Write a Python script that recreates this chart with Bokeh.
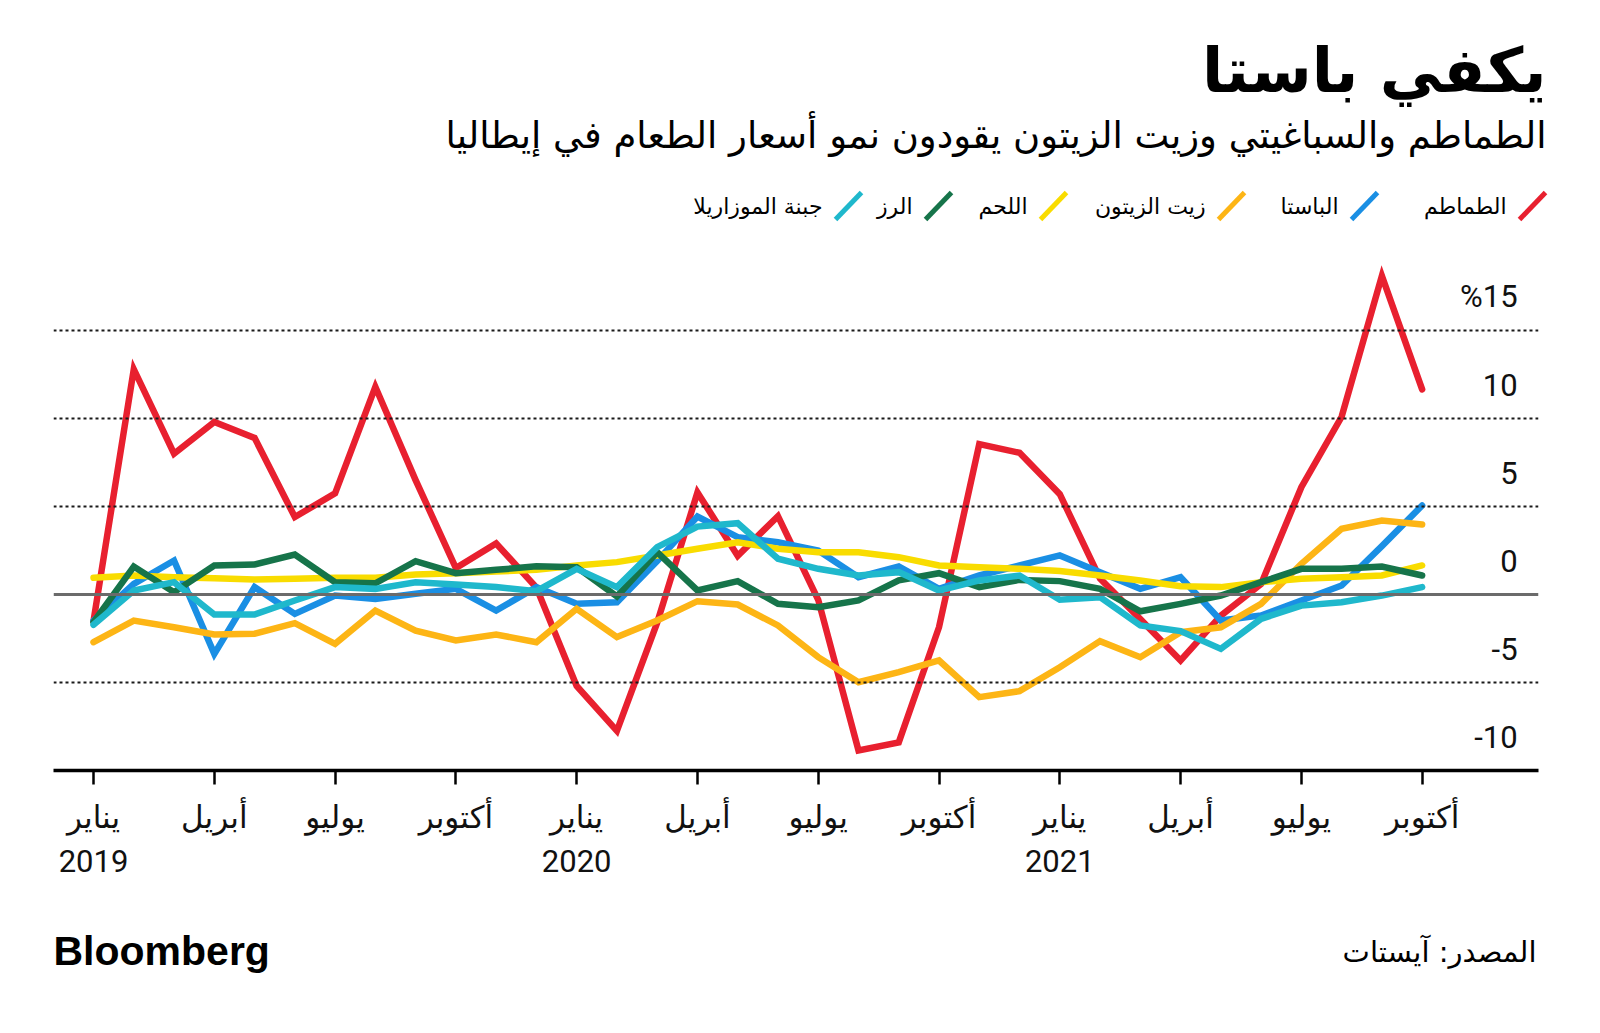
from bokeh.plotting import figure
from bokeh.models import Span, FixedTicker, Range1d
from bokeh.layouts import column
from bokeh.embed import file_html
from bokeh.resources import INLINE
from bokeh.core.properties import value

# ---------------- data (year-on-year %, Jan 2019 .. Oct 2021) ----------------
month_index = list(range(34))

tomatoes = [-1.5, 12.8, 8.0, 9.8, 8.9, 4.4, 5.75, 11.8, 6.5, 1.5, 2.9, 0.4,
            -5.2, -7.75, -1.6, 5.8, 2.2, 4.45, -0.3, -8.86, -8.4, -1.86, 8.55, 8.05,
            5.7, 0.9, -1.4, -3.75, -1.2, 0.6, 6.1, 10.1, 18.1, 11.65]
pasta = [-1.48, 0.6, 1.93, -3.37, 0.42, -1.1, -0.06, -0.25, 0.04, 0.32, -0.91, 0.42,
         -0.53, -0.44, 1.9, 4.43, 3.26, 2.97, 2.5, 0.98, 1.59, 0.32, 1.08, 1.65,
         2.22, 1.27, 0.32, 0.98, -1.48, -1.19, -0.34, 0.51, 2.75, 5.06]
olive_oil = [-2.71, -1.48, -1.86, -2.27, -2.23, -1.63, -2.8, -0.91, -2.05, -2.61, -2.27, -2.71,
             -0.81, -2.42, -1.48, -0.38, -0.57, -1.76, -3.56, -4.98, -4.41, -3.75, -5.83, -5.49,
             -4.13, -2.65, -3.56, -2.14, -1.86, -0.53, 1.74, 3.73, 4.2, 3.98]
meat = [0.95, 1.08, 0.98, 0.93, 0.85, 0.89, 0.95, 0.95, 1.14, 1.21, 1.3, 1.4,
        1.65, 1.84, 2.22, 2.6, 2.97, 2.6, 2.4, 2.4, 2.12, 1.65, 1.55, 1.46,
        1.33, 1.08, 0.8, 0.47, 0.42, 0.7, 0.89, 0.98, 1.08, 1.65]
rice = [-1.57, 1.59, 0.13, 1.65, 1.7, 2.27, 0.7, 0.64, 1.89, 1.21, 1.4, 1.6,
        1.55, -0.11, 2.4, 0.23, 0.76, -0.53, -0.72, -0.34, 0.8, 1.21, 0.42, 0.83,
        0.76, 0.32, -0.95, -0.53, -0.06, 0.7, 1.46, 1.46, 1.59, 1.08]
mozzarella = [-1.72, 0.23, 0.7, -1.14, -1.14, -0.34, 0.42, 0.32, 0.7, 0.57, 0.42, 0.19,
              1.46, 0.42, 2.69, 3.86, 4.05, 2.03, 1.46, 1.08, 1.27, 0.23, 0.8, 1.08,
              -0.3, -0.15, -1.76, -2.08, -3.09, -1.38, -0.63, -0.44, -0.06, 0.42]

series_names = ["الطماطم", "الباستا", "زيت الزيتون", "اللحم", "الرز", "جبنة الموزاريلا"]
series_colors = ["#E8202F", "#1A8FE4", "#FDB515", "#F9DC00", "#16744A", "#1FB8CC"]
series_values = [tomatoes, pasta, olive_oil, meat, rice, mozzarella]

tick_positions = [0, 3, 6, 9, 12, 15, 18, 21, 24, 27, 30, 33]
tick_labels = ["يناير\n2019", "أبريل", "يوليو", "أكتوبر",
               "يناير\n2020", "أبريل", "يوليو", "أكتوبر",
               "يناير\n2021", "أبريل", "يوليو", "أكتوبر"]
y_ticks = [15, 10, 5, 0, -5, -10]
y_tick_labels = ["%15", "10", "5", "0", "-5", "-10"]
dotted_grid = [15, 10, 5, -5]

title_text = "يكفي باستا"
subtitle_text = "الطماطم والسباغيتي وزيت الزيتون يقودون نمو أسعار الطعام في إيطاليا"
source_text = "المصدر: آيستات"
brand_text = "Bloomberg"

W = 1600
HEADER_H, MAIN_H, FOOTER_H = 235, 665, 133


def blank_fig(height, top_page):
    f = figure(width=W, height=height, x_range=Range1d(0, W),
               y_range=Range1d(top_page + height, top_page),
               output_backend="svg", toolbar_location=None, title=None,
               x_axis_location=None, y_axis_location=None,
               min_border=0, min_border_left=0, min_border_right=0,
               min_border_top=0, min_border_bottom=0)
    if "frame_align" in f.properties():
        f.frame_align = False
    f.outline_line_color = None
    f.grid.visible = False
    f.background_fill_color = "white"
    f.border_fill_color = "white"
    return f


# ---------------- header: title, subtitle, legend ----------------
header = blank_fig(HEADER_H, 0)
header.text(x=[1546], y=[70], text=[title_text], text_align="right",
            text_baseline="alphabetic", text_font=value("DejaVu Sans"),
            text_font_style="bold", text_font_size="62px", text_color="black")
header.text(x=[1546], y=[135], text=[subtitle_text], text_align="right",
            text_baseline="alphabetic", text_font=value("DejaVu Sans"),
            text_font_size="37px", text_color="black")

slash_x = [1532, 1364, 1231, 1053, 938, 848]
header.segment(x0=[x + 13 for x in slash_x], y0=[192] * 6,
               x1=[x - 13 for x in slash_x], y1=[219] * 6,
               line_color=series_colors, line_width=5)
header.text(x=[x - 26 for x in slash_x], y=[206] * 6, text=series_names,
            text_align="right", text_baseline="alphabetic",
            text_font=value("DejaVu Sans"), text_font_size="22px", text_color="black")

# ---------------- main chart ----------------
p = figure(width=W, height=MAIN_H, x_range=Range1d(-0.994, 35.89), y_range=Range1d(-10, 20),
           output_backend="svg", toolbar_location=None, y_axis_location=None, title=None,
           min_border_left=53, min_border_right=62, min_border_top=7, min_border_bottom=130)
p.outline_line_color = None
p.grid.visible = False
p.background_fill_color = "white"
p.border_fill_color = "white"

for v in dotted_grid:
    p.add_layout(Span(location=v, dimension="width", line_color="#1a1a1a",
                      line_width=2, line_dash="3 3"))
p.add_layout(Span(location=0, dimension="width", line_color="#6b6b6b", line_width=3))

for vals, col in zip(series_values, series_colors):
    p.line(month_index, vals, line_color=col, line_width=6.5,
           line_cap="round", line_join="miter")

ax = p.xaxis[0]
ax.ticker = FixedTicker(ticks=tick_positions)
ax.major_label_overrides = dict(zip(tick_positions, tick_labels))
ax.axis_line_color = "black"
ax.axis_line_width = 3.5
ax.major_tick_line_color = "black"
ax.major_tick_line_width = 2.5
ax.major_tick_in = 0
ax.major_tick_out = 14
ax.minor_tick_line_color = None
ax.major_label_standoff = 14
ax.major_label_text_font = "Roboto, DejaVu Sans"
ax.major_label_text_font_size = "31px"
ax.major_label_text_color = "#111111"
ax.major_label_text_line_height = 1.2

p.text(x=[35.37] * len(y_ticks), y=y_ticks, text=y_tick_labels,
       text_align="right", text_baseline="alphabetic", y_offset=-34,
       text_font=value("Roboto"), text_font_size="31px", text_color="#111111")

# ---------------- footer ----------------
footer = blank_fig(FOOTER_H, HEADER_H + MAIN_H)
footer.text(x=[53], y=[950], text=[brand_text], text_align="left",
            text_baseline="alphabetic", text_font=value("Liberation Sans"),
            text_font_style="bold", text_font_size="41px", text_color="black")
footer.text(x=[1536], y=[951], text=[source_text], text_align="right",
            text_baseline="alphabetic", text_font=value("DejaVu Sans"),
            text_font_size="29px", text_color="black")

layout = column(header, p, footer, spacing=0)
open("out.html", "w").write(file_html(layout, INLINE))
